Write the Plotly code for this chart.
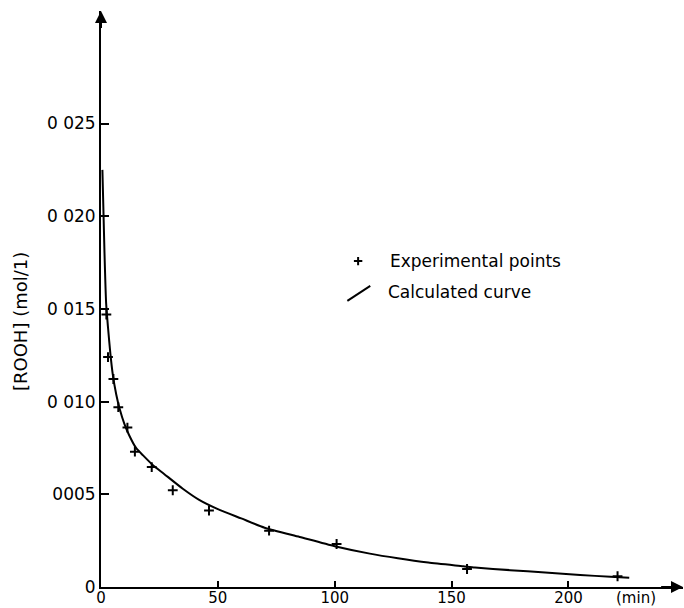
import plotly.graph_objects as go

# Experimental points (time in min, [ROOH] in mol/l)
exp_t = [2.3, 3.0, 5.3, 7.4, 11.3, 14.5, 21.7, 30.7, 46.2, 71.9, 100.8, 156.6, 221.0]
exp_c = [0.0147, 0.0124, 0.01122, 0.0097, 0.00860, 0.00730, 0.00647, 0.00522, 0.00412, 0.00304, 0.00232, 0.00097, 0.00058]

# Calculated curve
calc_t = [0.6, 1.0, 1.5, 2.2, 3.0, 4.0, 5.0, 6.5, 8, 10, 12, 15, 18, 22, 27, 35, 42, 50,
          60, 70, 85, 100, 115, 127, 140, 155, 160, 175, 190, 205, 218, 226]
calc_c = [0.0225, 0.0205, 0.0180, 0.0153, 0.0140, 0.0126, 0.0115, 0.0104, 0.0096, 0.0088,
          0.0082, 0.0075, 0.0071, 0.0066, 0.0061, 0.0053, 0.0047, 0.0042, 0.0037, 0.0032,
          0.0027, 0.0022, 0.00180, 0.00155, 0.00132, 0.00112, 0.00105, 0.00091, 0.00078,
          0.00065, 0.00055, 0.00050]

x_ticks = [0, 50, 100, 150, 200]
x_ticktext = ["0", "50", "100", "150", "200"]
y_ticks = [0, 0.005, 0.010, 0.015, 0.020, 0.025]
y_ticktext = ["0", "0005", "0 010", "0 015", "0 020", "0 025"]

X_MAX = 249
Y_MAX = 0.03107
FONT = "DejaVu Sans"
M_L, M_R, M_T, M_B = 101, 1, 11, 21
PLOT_W = 684 - M_L - M_R
PLOT_H = 608 - M_T - M_B

fig = go.Figure()
fig.add_trace(go.Scatter(x=calc_t, y=calc_c, mode="lines", line_shape="spline",
                         line=dict(color="black", width=2, smoothing=0.6), hoverinfo="skip",
                         showlegend=False))
fig.add_trace(go.Scatter(x=exp_t, y=exp_c, mode="markers",
                         marker=dict(symbol="cross-thin", size=7, color="black",
                                     line=dict(color="black", width=2)),
                         showlegend=False))

# legend glyphs
fig.add_trace(go.Scatter(x=[110], y=[0.01758], mode="markers",
                         marker=dict(symbol="cross-thin", size=6, color="black",
                                     line=dict(color="black", width=2)),
                         showlegend=False, hoverinfo="skip"))
fig.add_shape(type="line", x0=105.4, y0=0.01543, x1=115.2, y1=0.01624,
              xref="x", yref="y", line=dict(color="black", width=2))
fig.add_annotation(x=122.9, y=0.01758, xref="x", yref="y", text="Experimental points",
                   showarrow=False, xanchor="left", yanchor="middle",
                   font=dict(family=FONT, size=17, color="black"))
fig.add_annotation(x=122.1, y=0.01591, xref="x", yref="y", text="Calculated curve",
                   showarrow=False, xanchor="left", yanchor="middle",
                   font=dict(family=FONT, size=17, color="black"))

# axis titles
fig.add_annotation(x=(20 - M_L) / PLOT_W, y=(608 - M_B - 2 - 320) / PLOT_H, xref="paper", yref="paper",
                   text="[ROOH] (mol/1)", showarrow=False, textangle=-90,
                   xanchor="center", yanchor="middle",
                   font=dict(family=FONT, size=18, color="black"))
fig.add_annotation(x=229, y=0, xref="x", yref="y", text="(min)", showarrow=False,
                   xanchor="center", yanchor="top", yshift=0,
                   font=dict(family=FONT, size=15, color="black"))

# axis arrows
fig.add_annotation(x=X_MAX, y=0, ax=X_MAX - 10, ay=0, xref="x", yref="y", axref="x", ayref="y",
                   showarrow=True, arrowhead=2, arrowsize=1.2, arrowwidth=2, arrowcolor="black", text="")
fig.add_annotation(x=0, y=Y_MAX, ax=0, ay=Y_MAX - 0.001, xref="x", yref="y", axref="x", ayref="y",
                   showarrow=True, arrowhead=2, arrowsize=1.2, arrowwidth=2, arrowcolor="black", text="")

fig.update_layout(
    width=684, height=608,
    margin=dict(l=M_L, r=M_R, t=M_T, b=M_B),
    plot_bgcolor="white", paper_bgcolor="white",
    font=dict(family=FONT, size=17, color="black"),
)
fig.update_xaxes(range=[0, X_MAX], tickvals=x_ticks, ticktext=x_ticktext,
                 ticks="inside", ticklen=6, tickwidth=1.5, tickcolor="black",
                 ticklabelstandoff=-4,
                 showline=True, linecolor="black", linewidth=2, showgrid=False,
                 zeroline=False, automargin=False, tickfont=dict(family=FONT, size=15))
fig.update_yaxes(range=[0, Y_MAX], tickvals=y_ticks, ticktext=y_ticktext,
                 ticks="inside", ticklen=8, tickwidth=1.5, tickcolor="black",
                 showline=True, linecolor="black", linewidth=2, showgrid=False,
                 zeroline=False, automargin=False, tickfont=dict(family=FONT, size=17))

fig.write_html("out.html")
